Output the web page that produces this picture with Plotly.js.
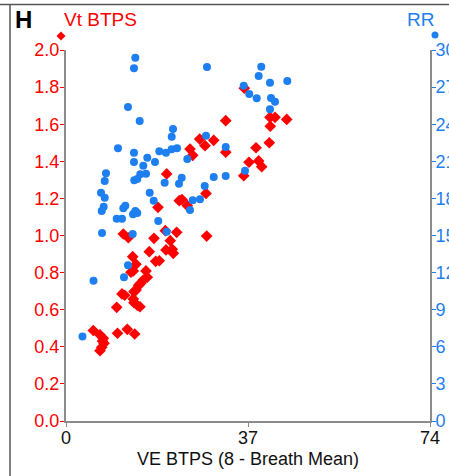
<!DOCTYPE html>
<html>
<head>
<meta charset="utf-8">
<script src="https://cdn.plot.ly/plotly-3.0.1.min.js"></script>
<style>html,body{margin:0;padding:0;background:#fff;}#chart{width:449px;height:476px;}</style>
</head>
<body>
<div id="chart"></div>
<script>
// VE BTPS (8-breath mean) for the Vt series
const veVt = [32.47,27.18,30.03,28.26,25.21,25.76,32.47,20.47,28.46,23.03,23.58,24.66,18.70,36.25,41.47,42.49,44.87,41.53,38.63,41.33,37.20,39.17,39.78,36.13,11.65,12.67,17.89,22.50,28.60,20.19,21.20,16.93,20.33,21.61,21.81,13.56,18.24,18.97,14.23,13.68,13.21,16.26,16.53,15.71,15.19,14.78,14.23,13.82,11.38,11.93,13.68,13.82,14.49,15.04,10.31,5.55,6.91,7.58,7.73,7.26,6.91,7.42,10.47,12.46,13.97];
// Vt BTPS (L)
const vt = [1.619,1.520,1.513,1.484,1.466,1.432,1.449,1.332,1.227,1.188,1.194,1.161,1.152,1.794,1.637,1.637,1.626,1.589,1.473,1.500,1.395,1.402,1.371,1.322,1.008,0.988,0.985,1.017,0.997,1.026,0.972,0.913,0.922,0.926,0.904,0.886,0.861,0.864,0.845,0.809,0.802,0.809,0.775,0.760,0.742,0.732,0.706,0.697,0.685,0.678,0.658,0.638,0.624,0.616,0.613,0.488,0.464,0.446,0.419,0.397,0.379,0.431,0.473,0.494,0.469];
// VE BTPS for the RR series
const veRR = [14.09,13.82,28.66,12.60,14.98,21.75,21.49,28.46,10.57,13.82,18.97,20.33,21.49,22.57,32.47,16.53,13.82,15.71,18.09,24.66,8.13,7.87,15.10,16.26,14.49,13.88,23.52,22.97,20.06,30.03,32.47,28.20,7.12,7.87,17.02,17.83,25.76,27.24,7.66,7.26,12.06,11.65,14.09,13.62,25.21,10.31,11.38,18.76,20.47,7.32,13.56,12.60,11.79,5.59,3.35,39.70,39.17,44.99,41.47,36.13,37.26,38.77,41.68,42.49,41.47,36.39,14.49];
// RR (breaths/min)
const rr = [29.38,28.52,28.62,25.39,24.26,23.61,22.99,23.07,22.05,21.70,21.81,21.70,21.97,22.05,22.16,21.29,20.94,20.64,20.94,21.19,20.03,19.41,19.95,20.00,19.57,19.46,19.67,19.19,19.27,19.73,19.81,19.00,18.46,18.06,18.46,17.81,17.85,17.93,17.33,16.98,17.41,17.20,16.98,16.71,17.06,16.36,16.36,16.17,15.31,15.20,15.12,12.59,11.62,11.34,6.83,28.65,27.90,27.49,27.36,27.11,26.44,26.09,26.12,25.82,25.20,20.24,16.82];

const xTicks = [0, 37, 74];
const yTicks = [0, 0.2, 0.4, 0.6, 0.8, 1.0, 1.2, 1.4, 1.6, 1.8, 2.0];
const y2Ticks = [0, 3, 6, 9, 12, 15, 18, 21, 24, 27, 30];

const RED = '#ff0000';
const BLUE = '#1e7ff0';
const AX = '#8c8c8c';
const FONT = 'Liberation Sans, Arial, Helvetica, sans-serif';

const traces = [
  {x: veVt, y: vt, type: 'scatter', mode: 'markers', name: 'Vt BTPS', yaxis: 'y',
   marker: {symbol: 'diamond', size: 9, color: RED}},
  {x: veRR, y: rr, type: 'scatter', mode: 'markers', name: 'RR', yaxis: 'y2',
   marker: {symbol: 'circle', size: 8, color: BLUE}}
];

const W = 364, H = 371, L = 66, T = 50;
const px = v => (v - L) / W;
const py = v => (T + H - v) / H;
const dx = 4.5 / W, dy = 4.5 / H;

const layout = {
  width: 449, height: 476,
  margin: {l: 66, r: 19, t: 50, b: 55},
  paper_bgcolor: '#fff', plot_bgcolor: '#fff',
  showlegend: false,
  font: {family: FONT, size: 18, color: '#000'},
  xaxis: {
    range: [0, 74], tickvals: xTicks, ticktext: xTicks.map(String),
    showgrid: false, zeroline: false, showline: true, linecolor: AX, linewidth: 2,
    ticks: 'outside', ticklen: 4, tickcolor: AX, tickwidth: 1,
    ticklabelstandoff: -5,
    tickfont: {size: 18, color: '#111'},
    title: {text: 'VE BTPS (8 - Breath Mean)', font: {size: 18, color: '#111'}, standoff: 6}
  },
  yaxis: {
    range: [0, 2.0], tickvals: yTicks, ticktext: yTicks.map(v => v.toFixed(1)),
    showgrid: false, zeroline: false, showline: true, linecolor: AX, linewidth: 2,
    ticks: 'outside', ticklen: 4, tickcolor: RED, tickwidth: 1,
    ticklabelstandoff: -3,
    tickfont: {size: 18, color: RED}
  },
  yaxis2: {
    range: [0, 30], tickvals: y2Ticks, ticktext: y2Ticks.map(String),
    overlaying: 'y', side: 'right',
    showgrid: false, zeroline: false, showline: true, linecolor: AX, linewidth: 2,
    ticks: 'outside', ticklen: 4, tickcolor: BLUE, tickwidth: 1,
    ticklabelstandoff: -4,
    tickfont: {size: 18, color: BLUE}
  },
  annotations: [
    {text: '<b>H</b>', xref: 'paper', yref: 'paper', x: px(23), y: py(20), xanchor: 'center', yanchor: 'middle', showarrow: false, font: {size: 24, color: '#000'}},
    {text: 'Vt BTPS', xref: 'paper', yref: 'paper', x: px(100), y: py(19.5), xanchor: 'center', yanchor: 'middle', showarrow: false, font: {size: 19, color: RED}},
    {text: 'RR', xref: 'paper', yref: 'paper', x: px(420), y: py(20), xanchor: 'center', yanchor: 'middle', showarrow: false, font: {size: 19, color: BLUE}}
  ],
  shapes: [
    {type: 'line', xref: 'paper', yref: 'paper', x0: px(0), x1: px(449), y0: py(4.5), y1: py(4.5), line: {color: '#555', width: 1.5}},
    {type: 'line', xref: 'paper', yref: 'paper', x0: px(10), x1: px(10), y0: py(4.5), y1: py(476), line: {color: '#555', width: 1.5}},
    {type: 'path', xref: 'paper', yref: 'paper',
     path: `M ${px(61)-dx} ${py(36)} L ${px(61)} ${py(36)+dy} L ${px(61)+dx} ${py(36)} L ${px(61)} ${py(36)-dy} Z`,
     fillcolor: RED, line: {width: 0}},
    {type: 'circle', xref: 'paper', yref: 'paper',
     x0: px(435) - 3.5 / W, x1: px(435) + 3.5 / W, y0: py(35) - 3.5 / H, y1: py(35) + 3.5 / H,
     fillcolor: BLUE, line: {width: 0}}
  ]
};

Plotly.newPlot('chart', traces, layout, {staticPlot: true, displayModeBar: false});
</script>
</body>
</html>
